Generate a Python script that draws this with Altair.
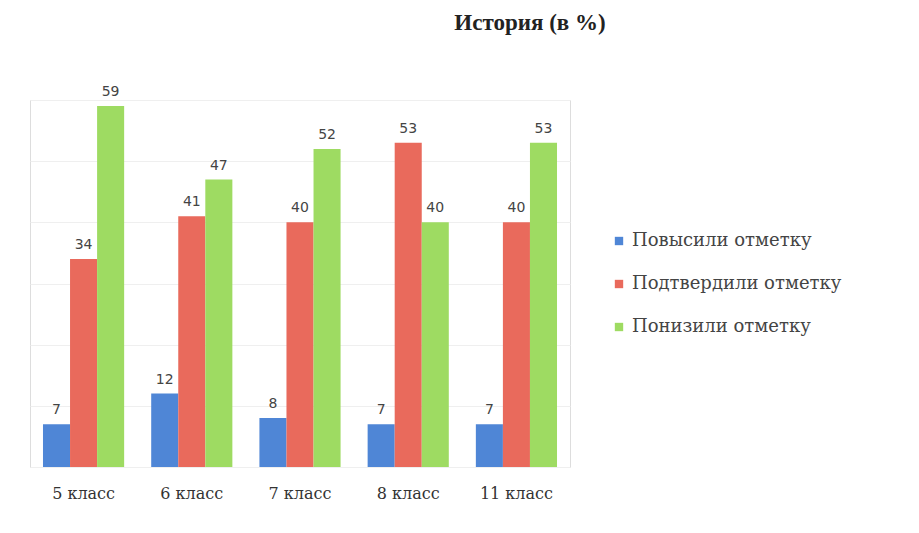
import altair as alt
import pandas as pd

classes = ["5 класс", "6 класс", "7 класс", "8 класс", "11 класс"]
series = ["Повысили отметку", "Подтвердили отметку", "Понизили отметку"]
raised = [7, 12, 8, 7, 7]
confirmed = [34, 41, 40, 53, 40]
lowered = [59, 47, 52, 40, 53]
colors = ["#4f86d6", "#e96a5c", "#9edb62"]

rows = []
for i, c in enumerate(classes):
    for s, vals in zip(series, [raised, confirmed, lowered]):
        rows.append({"class": c, "series": s, "value": vals[i]})
df = pd.DataFrame(rows)

x = alt.X("class:N", sort=classes, title=None,
          scale=alt.Scale(paddingInner=0.25, paddingOuter=0.12),
          axis=alt.Axis(labelAngle=0, labelFont="DejaVu Serif", labelFontSize=16,
                        labelColor="#333333", domain=False, ticks=False, labelPadding=18))
xo = alt.XOffset("series:N", sort=series)
y = alt.Y("value:Q", title=None, scale=alt.Scale(domain=[0, 60], nice=False),
          axis=alt.Axis(labels=False, ticks=False, domain=False, grid=True,
                        gridColor="#efefef", values=[0, 10, 20, 30, 40, 50, 60]))

bars = alt.Chart(df).mark_bar().encode(
    x=x, xOffset=xo, y=y,
    color=alt.Color("series:N", sort=series,
                    scale=alt.Scale(domain=series, range=colors),
                    legend=alt.Legend(title=None, orient="none", legendX=580, legendY=132,
                                      symbolType="square", symbolSize=70,
                                      labelFont="DejaVu Serif", labelFontSize=18,
                                      labelColor="#444444", rowPadding=25, labelLimit=400))
)

labels = alt.Chart(df).mark_text(dy=-14, font="DejaVu Sans", fontSize=14, color="#444444").encode(
    x=x, xOffset=xo, y=y, text="value:Q"
)

chart = (bars + labels).properties(
    width=540, height=367,
    title=alt.TitleParams("История  (в %)", font="Liberation Serif", fontSize=23,
                          fontWeight="bold", color="#222222", anchor="middle",
                          dx=230, offset=50),
    autosize=alt.AutoSizeParams(type="none"),
    padding={"left": 22, "top": 92, "right": 341, "bottom": 58},
).configure_view(stroke=None).configure(background="white")

chart.save("out.html", embed_options={"renderer": "svg", "actions": False})
